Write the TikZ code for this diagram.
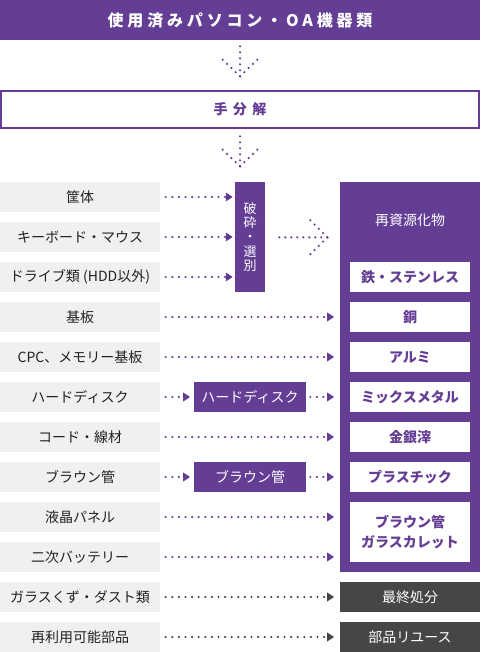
\documentclass[tikz,border=0pt]{standalone}
\usepackage{fontspec}
\setmainfont{Noto Sans CJK JP}
\newfontfamily\jpsp[LetterSpace=24]{Noto Sans CJK JP}
\usetikzlibrary{arrows.meta}
\definecolor{pur}{RGB}{100,61,148}
\definecolor{lgray}{RGB}{240,240,240}
\definecolor{dgray}{RGB}{70,70,70}
\definecolor{txt}{RGB}{34,34,34}
\tikzset{
  gbox/.style={fill=lgray, minimum width=160pt, minimum height=30pt, inner sep=0pt, text=txt, font=\fontsize{14}{16}\selectfont},
  wbox/.style={fill=white, minimum width=120pt, minimum height=30pt, inner sep=0pt, text=pur, font=\bfseries\fontsize{14}{16}\selectfont},
  pbox/.style={fill=pur, minimum width=112pt, minimum height=30pt, inner sep=0pt, text=white, font=\fontsize{14}{16}\selectfont},
  kbox/.style={fill=dgray, minimum width=140pt, minimum height=30pt, inner sep=0pt, text=white, font=\fontsize{14}{16}\selectfont},
  dotarr/.style={draw=pur, line width=2.4pt, line cap=round, dash pattern=on 0pt off 6.6pt, -{Triangle[length=7pt,width=8.5pt]}, shorten <=5.5pt, shorten >=5.7pt},
  dotk/.style={dotarr, draw=dgray},
  dotbig/.style={draw=pur, line width=2.4pt, line cap=round, dash pattern=on 0pt off 6pt},
}
\begin{document}
\begin{tikzpicture}[x=1pt,y=-1pt]
\useasboundingbox (0,0) rectangle (480,652);
% top
\node[fill=pur, minimum width=480pt, minimum height=40pt, inner sep=0pt, text=white, font=\jpsp\bfseries\fontsize{16}{18}\selectfont] (top) at (240,20) {使用済みパソコン・OA機器類};
% down arrow 1
\coordinate (t1) at (240,76.3);
\coordinate (t1u) at (240,43.3);
\coordinate (t1l) at (222.3,59.3);
\coordinate (t1r) at (257.7,59.3);
\draw[dotbig] (t1) -- (t1u);
\draw[dotbig] (t1) -- (t1l);
\draw[dotbig] (t1) -- (t1r);
% hand disassembly
\node[draw=pur, line width=2pt, fill=white, minimum width=478pt, minimum height=37pt, inner sep=0pt, text=pur, font=\addfontfeatures{LetterSpace=38}\bfseries\fontsize{14}{16}\selectfont] (hand) at (240,109.5) {手分解};
% down arrow 2
\coordinate (t2) at (240,166.3);
\coordinate (t2u) at (240,133.3);
\coordinate (t2l) at (222.3,149.3);
\coordinate (t2r) at (257.7,149.3);
\draw[dotbig] (t2) -- (t2u);
\draw[dotbig] (t2) -- (t2l);
\draw[dotbig] (t2) -- (t2r);
% left column
\node[gbox] (g1) at (80,197) {筐体};
\node[gbox] (g2) at (80,237) {キーボード・マウス};
\node[gbox] (g3) at (80,277) {ドライブ類 (HDD以外)};
\node[gbox] (g4) at (80,317) {基板};
\node[gbox] (g5) at (80,357) {CPC、メモリー基板};
\node[gbox] (g6) at (80,397) {ハードディスク};
\node[gbox] (g7) at (80,437) {コード・線材};
\node[gbox] (g8) at (80,477) {ブラウン管};
\node[gbox] (g9) at (80,517) {液晶パネル};
\node[gbox] (g10) at (80,557) {二次バッテリー};
\node[gbox] (g11) at (80,597) {ガラスくず・ダスト類};
\node[gbox] (g12) at (80,637) {再利用可能部品};
% crush / sort
\node[fill=pur, minimum width=30pt, minimum height=110pt, inner sep=0pt, text=white, align=center, font=\fontsize{13}{14.2}\selectfont] (hs) at (250,237) {破\\砕\\・\\選\\別};
% recycling panel
\node[fill=pur, minimum width=140pt, minimum height=390pt, inner sep=0pt] (panel) at (410,377) {};
\node[text=white, font=\fontsize{14}{16}\selectfont, inner sep=0pt] (ptitle) at (410,220) {再資源化物};
\node[wbox] (r1) at (410,277) {鉄・ステンレス};
\node[wbox] (r2) at (410,317) {銅};
\node[wbox] (r3) at (410,357) {アルミ};
\node[wbox] (r4) at (410,397) {ミックスメタル};
\node[wbox] (r5) at (410,437) {金銀滓};
\node[wbox] (r6) at (410,477) {プラスチック};
\node[wbox, minimum height=60pt, align=center, font=\bfseries\fontsize{14}{20}\selectfont] (r7) at (410,532) {ブラウン管\\ガラスカレット};
\node[kbox] (k1) at (410,597) {最終処分};
\node[kbox] (k2) at (410,637) {部品リユース};
% middle boxes
\node[pbox] (hd) at (250,397) {ハードディスク};
\node[pbox] (crt) at (250,477) {ブラウン管};
% arrows to crush
\draw[dotarr, shorten >=2pt] (g1.east) -- (g1.east -| hs.west);
\draw[dotarr, shorten >=2pt] (g2.east) -- (g2.east -| hs.west);
\draw[dotarr, shorten >=2pt] (g3.east) -- (g3.east -| hs.west);
% big arrow crush -> panel
\coordinate (bt) at (327.3,237.3);
\coordinate (bs) at (276.7,237.3);
\coordinate (bu) at (310.3,220.3);
\coordinate (bd) at (310.3,254.3);
\draw[dotbig] (bt) -- (bs);
\draw[dotbig] (bt) -- (bu);
\draw[dotbig] (bt) -- (bd);
% long arrows
\draw[dotarr] (g4.east) -- (g4.east -| panel.west);
\draw[dotarr] (g5.east) -- (g5.east -| panel.west);
\draw[dotarr] (g7.east) -- (g7.east -| panel.west);
\draw[dotarr] (g9.east) -- (g9.east -| panel.west);
\draw[dotarr] (g10.east) -- (g10.east -| panel.west);
\draw[dotk] (g11.east) -- (k1.west);
\draw[dotk] (g12.east) -- (k2.west);
% via middle boxes
\draw[dotarr, shorten >=3.6pt] (g6.east) -- (hd.west);
\draw[dotarr, shorten <=4pt] (hd.east) -- (hd.east -| panel.west);
\draw[dotarr, shorten >=3.6pt] (g8.east) -- (crt.west);
\draw[dotarr, shorten <=4pt] (crt.east) -- (crt.east -| panel.west);
\end{tikzpicture}
\end{document}
